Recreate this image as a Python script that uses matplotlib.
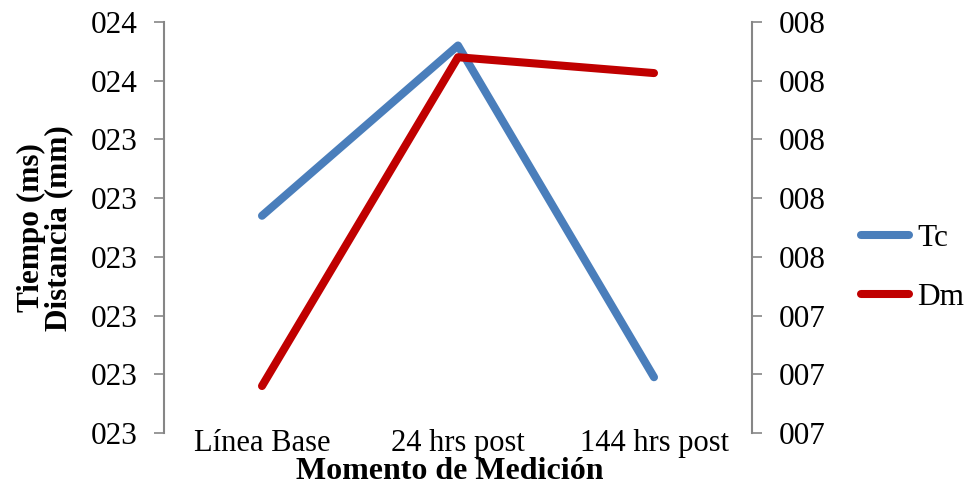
import matplotlib.pyplot as plt

plt.rcParams['font.family'] = ['Liberation Serif', 'DejaVu Serif']

momentos = ["Línea Base", "24 hrs post", "144 hrs post"]
tc = [23.27, 23.56, 22.995]   # Tiempo de contracción (eje izquierdo)
dm = [7.28, 7.84, 7.813]      # Desplazamiento máximo (eje derecho)

tc_ticks = [22.9, 23.0, 23.1, 23.2, 23.3, 23.4, 23.5, 23.6]
tc_labels = ["023", "023", "023", "023", "023", "023", "024", "024"]
dm_ticks = [7.2, 7.3, 7.4, 7.5, 7.6, 7.7, 7.8, 7.9]
dm_labels = ["007", "007", "007", "008", "008", "008", "008", "008"]

azul = "#4A7EBB"
rojo = "#C00000"
gris = "#868686"

fig = plt.figure(figsize=(9.66, 4.86), dpi=100)
ax = fig.add_axes([164 / 966, 53 / 486, 588 / 966, 411 / 486])
ax2 = ax.twinx()

x = range(len(momentos))
l1, = ax.plot(x, tc, color=azul, lw=5.8, solid_capstyle='round',
              solid_joinstyle='round', label="Tc")
l2, = ax2.plot(x, dm, color=rojo, lw=5.8, solid_capstyle='round',
               solid_joinstyle='round', label="Dm")

ax.set_xlim(-0.5, 2.5)
ax.set_ylim(tc_ticks[0], tc_ticks[-1])
ax2.set_ylim(dm_ticks[0], dm_ticks[-1])
ax.set_xticks(list(x))
ax.set_xticklabels(momentos)
ax.set_yticks(tc_ticks)
ax.set_yticklabels(tc_labels)
ax2.set_yticks(dm_ticks)
ax2.set_yticklabels(dm_labels)

for a in (ax, ax2):
    for s in a.spines.values():
        s.set_visible(False)
    a.tick_params(axis='y', labelsize=22.5, length=7, width=1.2, color=gris, pad=12)
ax.spines['left'].set_visible(True)
ax.spines['left'].set_color(gris)
ax.spines['left'].set_linewidth(1.5)
ax2.spines['right'].set_visible(True)
ax2.spines['right'].set_color(gris)
ax2.spines['right'].set_linewidth(1.5)
ax.tick_params(axis='x', length=0, labelsize=22, pad=-3)

fig.text(45 / 966, 258 / 486, "Tiempo (ms)\nDistancia (mm)", rotation=90,
         ha='center', va='center', fontsize=22.5, fontweight='bold',
         linespacing=0.95)
fig.text(450 / 966, 7 / 486, "Momento de Medición", ha='center', va='baseline',
         fontsize=23, fontweight='bold')

fig.legend(handles=[l1, l2], loc='center left', bbox_to_anchor=(861 / 966, 218 / 486),
           frameon=False, fontsize=22.5, handlelength=1.55, handletextpad=0.25,
           labelspacing=0.95, borderpad=0, borderaxespad=0)

fig.savefig("out.png", dpi=100)
